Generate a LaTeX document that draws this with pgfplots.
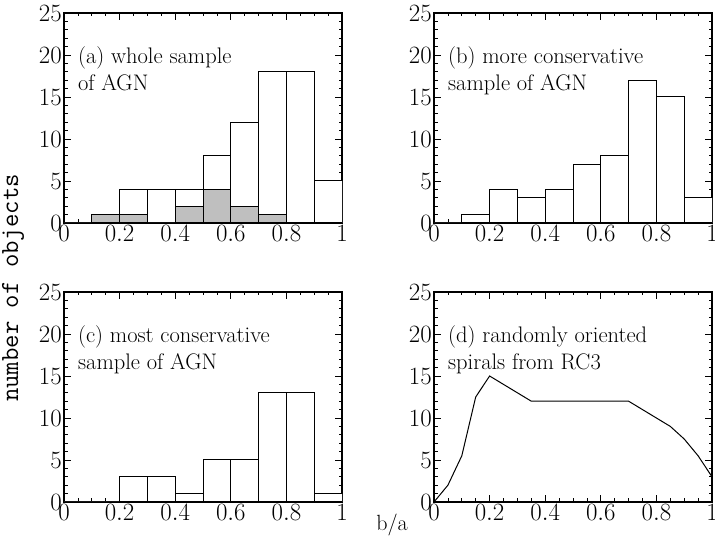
\documentclass[border=0pt]{standalone}
\usepackage{pgfplots}
\pgfplotsset{compat=1.18}

\pgfplotsset{
  panel/.style={
    width=278pt, height=210pt, scale only axis,
    xmin=0, xmax=1, ymin=0, ymax=25,
    xtick={0,0.2,0.4,0.6,0.8,1},
    ytick={0,5,10,15,20,25},
    minor x tick num=3, minor y tick num=4,
    tick align=inside,
    major tick length=7pt, minor tick length=3.5pt,
    every tick/.style={black, line width=0.8pt},
    axis line style={line width=1.2pt},
    tick label style={font=\fontsize{26}{28}\selectfont, inner sep=2pt},
  },
  hbar/.style={ybar interval, fill=white, draw=black, line width=1pt},
  gbar/.style={ybar interval, fill=gray!50, draw=black, line width=1pt},
}
\tikzset{
  lab/.style={anchor=north west, align=left, inner sep=0pt,
    font=\fontsize{22.5}{27}\selectfont},
}

\begin{document}
\begin{tikzpicture}
% (a)
\begin{axis}[panel, at={(0pt,279pt)}]
\addplot[hbar] coordinates
  {(0,0)(0.1,1)(0.2,4)(0.3,4)(0.4,4)(0.5,8)(0.6,12)(0.7,18)(0.8,18)(0.9,5)(1,5)};
\addplot[gbar] coordinates
  {(0.1,1)(0.2,1)(0.3,0)(0.4,2)(0.5,4)(0.6,2)(0.7,1)(0.8,1)};
\node[lab] at (rel axis cs:0.05,0.84) {(a) whole sample\\of AGN};
\end{axis}
% (b)
\begin{axis}[panel, at={(370pt,279pt)}]
\addplot[hbar] coordinates
  {(0,0)(0.1,1)(0.2,4)(0.3,3)(0.4,4)(0.5,7)(0.6,8)(0.7,17)(0.8,15)(0.9,3)(1,3)};
\node[lab] at (rel axis cs:0.05,0.84) {(b) more conservative\\sample of AGN};
\end{axis}
% (c)
\begin{axis}[panel, at={(0pt,0pt)}]
\addplot[hbar] coordinates
  {(0,0)(0.1,0)(0.2,3)(0.3,3)(0.4,1)(0.5,5)(0.6,5)(0.7,13)(0.8,13)(0.9,1)(1,1)};
\node[lab] at (rel axis cs:0.05,0.84) {(c) most conservative\\sample of AGN};
\end{axis}
% (d)
\begin{axis}[panel, at={(370pt,0pt)}]
\addplot[black, line width=1pt, mark=none] coordinates
  {(0,0)(0.05,2)(0.1,5.5)(0.15,12.5)(0.2,15)(0.35,12)(0.7,12)(0.85,9)(0.9,7.5)(0.95,5.5)(1,3)};
\node[lab] at (rel axis cs:0.05,0.84) {(d) randomly oriented\\spirals from RC3};
\end{axis}
\node[rotate=90, font=\fontsize{26}{28}\selectfont\ttfamily] at (-51pt,214pt) {number of objects};
\node[font=\fontsize{22}{25}\selectfont] at (328pt,-23pt) {b/a};
\pgfresetboundingbox
\path[use as bounding box] (-64pt,-38pt) rectangle (651pt,502pt);
\end{tikzpicture}
\end{document}
